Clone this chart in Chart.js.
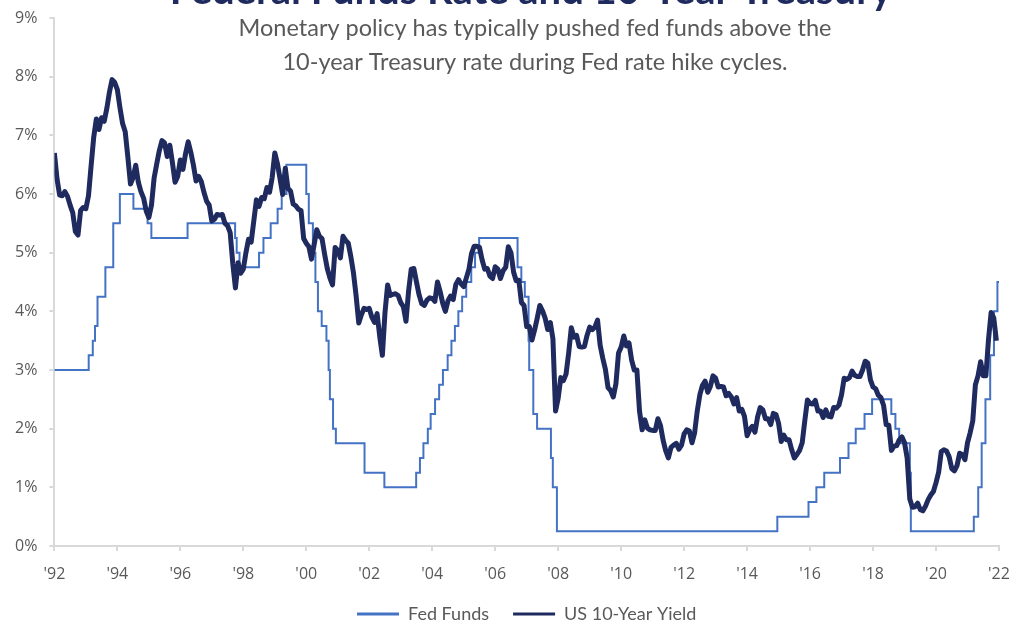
<!DOCTYPE html>
<html>
<head>
<meta charset="utf-8">
<script src="https://cdn.jsdelivr.net/npm/chart.js@4.4.1/dist/chart.umd.min.js"></script>
<style>
  body { margin: 0; background: #fff; }
  #wrap { width: 1012px; height: 624px; }
</style>
</head>
<body>
<div id="wrap"><canvas id="rates" width="1012" height="624"></canvas></div>
<script>
// text
const titleText = "Federal Funds Rate and 10-Year Treasury";
const subtitleLines = [
  "Monetary policy has typically pushed fed funds above the",
  "10-year Treasury rate during Fed rate hike cycles."
];
const seriesNames = ["US 10-Year Yield", "Fed Funds"];

// x axis as shown: '92 ... '22, a tick every 2 years
const axisStart = 1992;
const axisEnd = 2022;

// 10-year yield, one value per month from the left edge (%)
const tenYear = [
  6.70, 6.26, 5.98, 5.97, 6.04, 5.96, 5.81, 5.68, 5.36, 5.30, 5.72, 5.77,
  5.75, 5.97, 6.48, 6.97, 7.28, 7.10, 7.30, 7.24, 7.46, 7.74, 7.95, 7.90,
  7.78, 7.47, 7.20, 7.06, 6.63, 6.17, 6.28, 6.49, 6.20, 6.04, 5.93, 5.71,
  5.60, 5.81, 6.27, 6.51, 6.74, 6.91, 6.87, 6.64, 6.83, 6.53, 6.20, 6.30,
  6.58, 6.42, 6.69, 6.89, 6.71, 6.49, 6.22, 6.30, 6.21, 6.03, 5.88, 5.81,
  5.54, 5.57, 5.65, 5.64, 5.65, 5.50, 5.46, 5.34, 4.81, 4.40, 4.83, 4.65,
  4.72, 5.00, 5.23, 5.18, 5.54, 5.90, 5.79, 5.94, 5.92, 6.11, 6.03, 6.28,
  6.70, 6.52, 6.26, 5.99, 6.44, 6.10, 6.05, 5.83, 5.80, 5.74, 5.72, 5.24,
  5.16, 5.10, 4.89, 5.14, 5.39, 5.28, 5.24, 4.97, 4.73, 4.57, 4.45, 5.09,
  5.04, 4.91, 5.28, 5.21, 5.16, 4.93, 4.65, 4.26, 3.80, 3.94, 4.05, 4.03,
  4.05, 3.90, 3.81, 3.96, 3.57, 3.25, 3.98, 4.45, 4.27, 4.29, 4.30, 4.27,
  4.15, 4.08, 3.83, 4.35, 4.72, 4.73, 4.50, 4.28, 4.13, 4.10, 4.19, 4.23,
  4.22, 4.17, 4.50, 4.34, 4.14, 4.00, 4.18, 4.26, 4.20, 4.46, 4.54, 4.47,
  4.42, 4.57, 4.72, 4.99, 5.11, 5.11, 5.09, 4.88, 4.72, 4.73, 4.60, 4.56,
  4.76, 4.72, 4.56, 4.69, 4.75, 5.10, 5.00, 4.67, 4.52, 4.53, 4.15, 4.10,
  3.74, 3.74, 3.51, 3.68, 3.88, 4.10, 4.01, 3.89, 3.69, 3.81, 3.53, 2.30,
  2.52, 2.87, 2.82, 2.93, 3.29, 3.72, 3.56, 3.59, 3.40, 3.39, 3.40, 3.59,
  3.73, 3.69, 3.73, 3.85, 3.42, 3.20, 3.01, 2.70, 2.65, 2.54, 2.76, 3.29,
  3.39, 3.58, 3.41, 3.46, 3.17, 3.00, 3.00, 2.30, 1.98, 2.15, 2.01, 1.98,
  1.97, 1.97, 2.17, 2.05, 1.80, 1.62, 1.50, 1.68, 1.72, 1.75, 1.65, 1.72,
  1.91, 1.98, 1.96, 1.76, 1.93, 2.30, 2.58, 2.74, 2.81, 2.62, 2.72, 2.90,
  2.86, 2.71, 2.72, 2.71, 2.56, 2.60, 2.54, 2.42, 2.53, 2.30, 2.33, 2.21,
  1.88, 1.98, 2.04, 1.94, 2.20, 2.36, 2.32, 2.17, 2.17, 2.07, 2.26, 2.24,
  2.09, 1.78, 1.89, 1.81, 1.81, 1.64, 1.50, 1.56, 1.63, 1.76, 2.14, 2.49,
  2.43, 2.42, 2.48, 2.30, 2.30, 2.19, 2.32, 2.21, 2.20, 2.36, 2.35, 2.40,
  2.58, 2.86, 2.84, 2.87, 2.98, 2.91, 2.89, 2.89, 3.00, 3.15, 3.12, 2.83,
  2.71, 2.68, 2.57, 2.53, 2.40, 2.07, 2.06, 1.63, 1.70, 1.71, 1.81, 1.86,
  1.76, 1.50, 0.80, 0.66, 0.67, 0.73, 0.62, 0.60, 0.68, 0.79, 0.87, 0.93,
  1.08, 1.26, 1.61, 1.64, 1.62, 1.52, 1.32, 1.28, 1.37, 1.58, 1.56, 1.47,
  1.76, 1.93, 2.13, 2.75, 2.90, 3.14, 2.90, 2.90, 3.52, 3.98, 3.89, 3.50
];

// fed funds: date (in axis years) where the rate changes, and the new rate (%)
const ffDates = [
  1992.00, 1993.09, 1993.22, 1993.29, 1993.37, 1993.62, 1993.87, 1994.08,
  1994.51, 1994.96, 1995.08, 1996.23, 1997.74, 1997.79, 1997.88,
  1998.50, 1998.64, 1998.87, 1999.09, 1999.22, 1999.37,
  2000.00, 2000.08, 2000.21, 2000.29, 2000.37, 2000.49, 2000.64, 2000.71, 2000.75, 2000.85, 2000.94,
  2001.85, 2002.48, 2003.49, 2003.61, 2003.72, 2003.86, 2003.95,
  2004.09, 2004.22, 2004.34, 2004.49, 2004.61, 2004.72, 2004.83, 2004.95,
  2005.08, 2005.24, 2005.36, 2005.49, 2006.71, 2006.83, 2006.94,
  2007.06, 2007.08, 2007.21, 2007.33, 2007.77, 2007.83, 2007.96,
  2014.96, 2015.95, 2016.20, 2016.45, 2016.95, 2017.22, 2017.45, 2017.73, 2017.97,
  2018.58, 2018.71, 2018.83, 2019.17, 2019.20,
  2021.20, 2021.34, 2021.45, 2021.57, 2021.72, 2021.84, 2021.95, 2022.00
];
const ffRates = [
  3.00, 3.25, 3.50, 3.75, 4.25, 4.75, 5.50, 6.00,
  5.75, 5.50, 5.25, 5.50, 5.25, 5.00, 4.75,
  5.00, 5.25, 5.50, 5.75, 6.00, 6.50,
  6.00, 5.50, 5.00, 4.50, 4.00, 3.75, 3.50, 3.00, 2.50, 2.00, 1.75,
  1.25, 1.00, 1.25, 1.50, 1.75, 2.00, 2.25,
  2.50, 2.75, 3.00, 3.25, 3.50, 3.75, 4.00, 4.25,
  4.50, 4.75, 5.00, 5.25, 4.75, 4.50, 4.25,
  3.50, 3.00, 2.25, 2.00, 1.50, 1.00, 0.25,
  0.50, 0.75, 1.00, 1.25, 1.50, 1.75, 2.00, 2.25, 2.50,
  2.25, 2.00, 1.75, 1.25, 0.25,
  0.50, 1.00, 1.75, 2.50, 3.25, 4.00, 4.50, 4.50
];

const navy = '#1f2a5e';
const blue = '#4472c4';
const grey = '#595959';
const axisGrey = '#d9d9d9';

const tenYearPoints = tenYear.map((v, i) => ({ x: axisStart + i / 12, y: v }));
const ffPoints = ffDates.map((d, i) => ({ x: d, y: ffRates[i] }));

// title + subtitle sit over the top of the plot
const headline = {
  id: 'headline',
  afterDraw(chart) {
    const ctx = chart.ctx;
    ctx.save();
    ctx.textAlign = 'center';
    ctx.textBaseline = 'alphabetic';
    ctx.fillStyle = navy;
    ctx.font = 'bold 40px Lato';
    ctx.fillText(titleText, 531, 4);
    ctx.fillStyle = grey;
    ctx.font = '23.5px Lato';
    ctx.fillText(subtitleLines[0], 535, 36);
    ctx.fillText(subtitleLines[1], 535, 70);
    ctx.restore();
  }
};

const tickFont = { family: 'Open Sans', size: 16 };

const config = {
  type: 'line',
  data: {
    datasets: [
      { label: seriesNames[0], data: tenYearPoints, borderColor: navy, backgroundColor: navy,
        borderWidth: 5, pointRadius: 0, borderJoinStyle: 'round', tension: 0 },
      { label: seriesNames[1], data: ffPoints, borderColor: blue, backgroundColor: blue,
        borderWidth: 2, pointRadius: 0, stepped: 'before' }
    ]
  },
  options: {
    responsive: false,
    animation: false,
    layout: { padding: { left: 3, right: 13, top: 18, bottom: -9 } },
    plugins: {
      legend: {
        position: 'bottom',
        fullSize: false,
        reverse: true,
        labels: {
          color: grey,
          font: { family: 'Lato', size: 18 },
          boxWidth: 42,
          boxHeight: 3,
          padding: 24,
          generateLabels: (chart) =>
            Chart.defaults.plugins.legend.labels.generateLabels(chart).map(l => ({ ...l, lineWidth: 0 }))
        }
      },
      tooltip: { enabled: false }
    },
    scales: {
      x: {
        type: 'linear',
        min: axisStart,
        max: axisEnd,
        ticks: {
          stepSize: 2,
          autoSkip: false,
          maxRotation: 0,
          padding: 14,
          color: grey,
          font: tickFont,
          callback: (v) => "'" + String(v % 100).padStart(2, '0')
        },
        grid: { drawOnChartArea: false, tickLength: 5, color: axisGrey, lineWidth: 2 },
        border: { color: axisGrey, width: 2 },
        afterFit: (scale) => { scale.height = 35; scale.paddingRight = 12; }
      },
      y: {
        min: 0,
        max: 9,
        ticks: { stepSize: 1, padding: 12, color: grey, font: tickFont, callback: (v) => v + '%' },
        grid: { drawOnChartArea: false, tickLength: 5, color: axisGrey, lineWidth: 2 },
        border: { color: axisGrey, width: 2 },
        afterFit: (scale) => { scale.paddingTop = 9; scale.paddingBottom = 9; }
      }
    }
  },
  plugins: [headline]
};

const ratesChart = new Chart(document.getElementById('rates'), config);
</script>
</body>
</html>
